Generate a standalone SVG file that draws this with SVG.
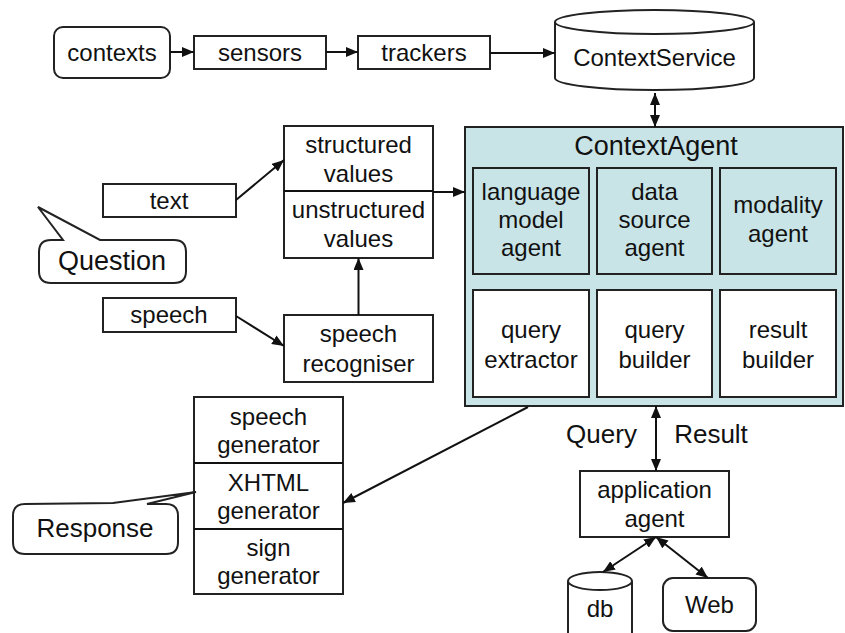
<svg xmlns="http://www.w3.org/2000/svg" width="845" height="633" viewBox="0 0 845 633">
<defs>
<style>
.b{fill:#fff;stroke:#222;stroke-width:2}
.c{fill:#c8e4e7;stroke:#222;stroke-width:2}
.t{font-family:"Liberation Sans",Arial,sans-serif;font-size:24px;fill:#111;text-anchor:middle}
.l{fill:none;stroke:#111;stroke-width:2}
</style>
<marker id="ah" viewBox="0 0 12 10" refX="12" refY="5" markerWidth="12" markerHeight="10" orient="auto-start-reverse" markerUnits="userSpaceOnUse"><path d="M0,0 L12,5 L0,10 z" fill="#111"/></marker>
</defs>
<rect width="845" height="633" fill="#fff"/>
<g id="contexts"><rect class="b" x="54" y="27" width="116" height="51" rx="9"/><text class="t" x="112" y="61">contexts</text></g>
<g id="sensors"><rect class="b" x="194" y="36" width="132" height="33"/><text class="t" x="260" y="61">sensors</text></g>
<g id="trackers"><rect class="b" x="358" y="36" width="132" height="33"/><text class="t" x="424" y="61">trackers</text></g>
<g id="contextservice"><path class="b" d="M555,22 L555,78 A99.5,12 0 0 0 754,78 L754,22"/><ellipse class="b" cx="654.5" cy="22" rx="99.5" ry="12"/><text class="t" x="654.5" y="66">ContextService</text></g>
<g id="text"><rect class="b" x="103" y="184" width="133" height="33"/><text class="t" x="169" y="209">text</text></g>
<g id="speech"><rect class="b" x="103" y="298" width="133" height="34"/><text class="t" x="169" y="323">speech</text></g>
<g id="question"><path class="b" d="M51,240 L63,240 L38,207 L100,240 L174,240 Q186,240 186,252 L186,271 Q186,283 174,283 L51,283 Q39,283 39,271 L39,252 Q39,240 51,240 Z"/><text class="t" x="112" y="270" style="font-size:27px">Question</text></g>
<g id="values"><rect class="b" x="284" y="126" width="149" height="132"/><line class="l" x1="284" y1="191" x2="433" y2="191"/>
<text class="t" x="358.5" y="153">structured</text><text class="t" x="358.5" y="182">values</text><text class="t" x="358.5" y="218">unstructured</text><text class="t" x="358.5" y="247">values</text></g>
<g id="recogniser"><rect class="b" x="284" y="315" width="149" height="67"/><text class="t" x="358.5" y="342">speech</text><text class="t" x="358.5" y="372">recogniser</text></g>
<g id="contextagent"><rect class="c" x="465" y="127" width="378" height="279"/><text class="t" x="656" y="155" style="font-size:27px">ContextAgent</text>
<rect class="c" x="473" y="168" width="116" height="106"/><rect class="c" x="597" y="168" width="115" height="106"/><rect class="c" x="720" y="168" width="116" height="106"/>
<rect class="b" x="473" y="290" width="116" height="107"/><rect class="b" x="597" y="290" width="115" height="107"/><rect class="b" x="720" y="290" width="116" height="107"/>
<text class="t" x="531" y="200">language</text><text class="t" x="531" y="228">model</text><text class="t" x="531" y="256">agent</text>
<text class="t" x="654.5" y="200">data</text><text class="t" x="654.5" y="228">source</text><text class="t" x="654.5" y="256">agent</text>
<text class="t" x="778" y="213">modality</text><text class="t" x="778" y="242">agent</text>
<text class="t" x="531" y="338">query</text><text class="t" x="531" y="368">extractor</text>
<text class="t" x="654.5" y="338">query</text><text class="t" x="654.5" y="368">builder</text>
<text class="t" x="778" y="338">result</text><text class="t" x="778" y="368">builder</text></g>
<g id="generators"><rect class="b" x="194" y="397" width="149" height="197"/><line class="l" x1="194" y1="463" x2="343" y2="463"/><line class="l" x1="194" y1="529" x2="343" y2="529"/>
<text class="t" x="268.5" y="425">speech</text><text class="t" x="268.5" y="453">generator</text>
<text class="t" x="268.5" y="491">XHTML</text><text class="t" x="268.5" y="519">generator</text>
<text class="t" x="268.5" y="556">sign</text><text class="t" x="268.5" y="584">generator</text></g>
<g id="response"><path class="b" d="M25,504 L113,503 L196,492 L147,504 L166,504 Q178,504 178,516 L178,542 Q178,554 166,554 L25,554 Q13,554 13,542 L13,516 Q13,504 25,504 Z"/><text class="t" x="95" y="537" style="font-size:26px">Response</text></g>
<g id="appagent"><rect class="b" x="580" y="471" width="149" height="66"/><text class="t" x="654.5" y="498">application</text><text class="t" x="654.5" y="527">agent</text></g>
<g id="db"><path class="b" d="M568,581 L568,640 L632,640 L632,581"/><ellipse class="b" cx="600" cy="581" rx="32" ry="9"/><text class="t" x="600" y="617">db</text></g>
<g id="web"><rect class="b" x="663" y="578" width="93" height="53" rx="10"/><text class="t" x="709.5" y="613">Web</text></g>
<g id="labels"><text class="t" x="601.5" y="443" style="font-size:26px">Query</text><text class="t" x="711" y="443" style="font-size:26px">Result</text></g>
<g id="connectors">
<line class="l" x1="170" y1="52" x2="194" y2="52" marker-end="url(#ah)"/>
<line class="l" x1="326" y1="52" x2="358" y2="52" marker-end="url(#ah)"/>
<line class="l" x1="490" y1="53" x2="555" y2="53" marker-end="url(#ah)"/>
<line class="l" x1="655" y1="93" x2="655" y2="127" marker-start="url(#ah)" marker-end="url(#ah)"/>
<line class="l" x1="236" y1="200" x2="284" y2="160" marker-end="url(#ah)"/>
<line class="l" x1="236" y1="316" x2="284" y2="346" marker-end="url(#ah)"/>
<line class="l" x1="358.5" y1="315" x2="358.5" y2="258" marker-end="url(#ah)"/>
<line class="l" x1="433" y1="192" x2="465" y2="192" marker-end="url(#ah)"/>
<line class="l" x1="528" y1="407" x2="343" y2="503" marker-end="url(#ah)"/>
<line class="l" x1="656" y1="406" x2="656" y2="471" marker-start="url(#ah)" marker-end="url(#ah)"/>
<line class="l" x1="656" y1="537" x2="603" y2="572" marker-start="url(#ah)" marker-end="url(#ah)"/>
<line class="l" x1="656" y1="537" x2="708" y2="578" marker-start="url(#ah)" marker-end="url(#ah)"/>
</g>
</svg>
